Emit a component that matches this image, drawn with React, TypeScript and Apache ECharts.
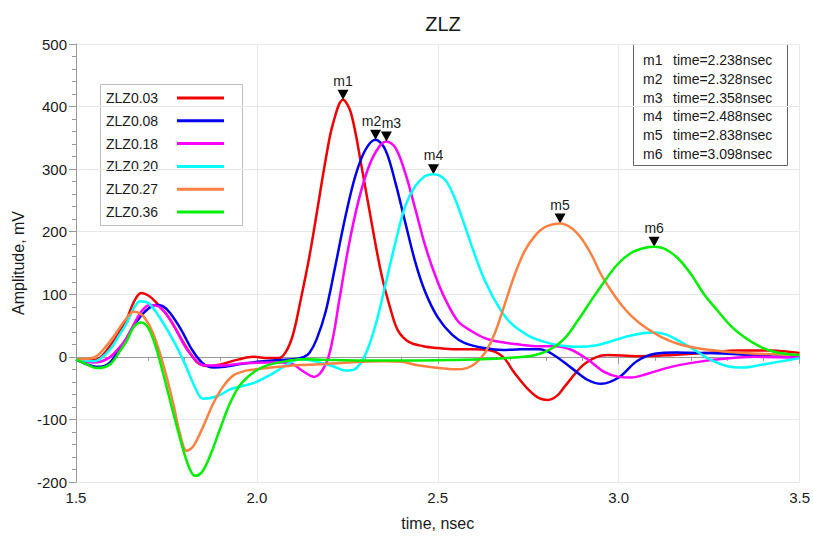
import React, { useEffect, useRef } from "react";
import * as echarts from "echarts";

const seriesNames = ["ZLZ0.03", "ZLZ0.08", "ZLZ0.18", "ZLZ0.20", "ZLZ0.27", "ZLZ0.36"];
const seriesColors = ["#f00000", "#0000f0", "#ff00ff", "#00ffff", "#ff8040", "#00f000"];

// ZLZ0.03 (red)
const redT = [1.5, 1.55, 1.6, 1.64, 1.66, 1.68, 1.7, 1.72, 1.75, 1.78, 1.8, 1.82, 1.84, 1.87, 1.9, 1.95, 1.99, 2.03, 2.06, 2.08, 2.1, 2.12, 2.145, 2.165, 2.19, 2.21, 2.238, 2.26, 2.29, 2.32, 2.345, 2.37, 2.39, 2.42, 2.46, 2.5, 2.55, 2.6, 2.64, 2.68, 2.71, 2.75, 2.78, 2.805, 2.83, 2.85, 2.9, 2.94, 2.97, 3.05, 3.15, 3.24, 3.33, 3.42, 3.5];
const redV = [-4, -5, 22, 60, 88, 102, 98, 88, 68, 40, 20, 2, -11, -15, -12, -4, 0, -2, -2, 8, 36, 88, 160, 228, 315, 372, 411, 390, 302, 205, 130, 75, 42, 24, 17, 14, 12, 12, 11, 0, -24, -52, -66, -69, -62, -48, -14, 0, 3, 1, 3, 6, 10, 10, 6];

// ZLZ0.08 (blue)
const blueT = [1.5, 1.53, 1.56, 1.59, 1.62, 1.64, 1.66, 1.69, 1.72, 1.74, 1.76, 1.79, 1.82, 1.85, 1.88, 1.91, 1.95, 2.0, 2.06, 2.1, 2.13, 2.145, 2.165, 2.19, 2.217, 2.245, 2.272, 2.3, 2.328, 2.355, 2.383, 2.41, 2.438, 2.465, 2.5, 2.54, 2.575, 2.63, 2.68, 2.73, 2.78, 2.815, 2.87, 2.915, 2.952, 3.0, 3.05, 3.1, 3.16, 3.24, 3.33, 3.42, 3.5];
const blueV = [-4, -12, -16, -11, 12, 30, 50, 72, 83, 81, 70, 44, 12, -10, -17, -16, -12, -8, -5, -4, 0, 6, 28, 72, 146, 225, 289, 331, 347, 331, 278, 215, 151, 104, 63, 35, 22, 14, 11, 12, 12, 5, -18, -37, -43, -33, -7, 5, 7, 6, 4, 1, -1];

// ZLZ0.18 (magenta)
const magentaT = [1.5, 1.55, 1.59, 1.62, 1.64, 1.68, 1.705, 1.73, 1.76, 1.78, 1.8, 1.82, 1.85, 1.9, 1.97, 2.03, 2.07, 2.1, 2.125, 2.158, 2.19, 2.21, 2.227, 2.254, 2.282, 2.31, 2.337, 2.358, 2.383, 2.41, 2.438, 2.465, 2.493, 2.52, 2.557, 2.594, 2.63, 2.67, 2.72, 2.78, 2.825, 2.87, 2.916, 2.96, 3.0, 3.035, 3.08, 3.145, 3.22, 3.29, 3.375, 3.5];
const magentaV = [-4, -9, -2, 15, 30, 72, 83, 80, 60, 40, 18, 2, -13, -14, -10, -9, -9, -12, -22, -32, -12, 30, 88, 178, 252, 305, 335, 344, 334, 294, 236, 178, 130, 93, 56, 41, 30, 24, 20, 17, 17, 11, -5, -24, -32, -33, -27, -16, -8, -3, 0, -1];

// ZLZ0.20 (cyan)
const cyanT = [1.5, 1.55, 1.59, 1.62, 1.64, 1.66, 1.677, 1.7, 1.73, 1.77, 1.8, 1.83, 1.851, 1.89, 1.93, 1.99, 2.04, 2.09, 2.12, 2.16, 2.21, 2.245, 2.27, 2.3, 2.328, 2.355, 2.383, 2.41, 2.438, 2.465, 2.488, 2.52, 2.548, 2.575, 2.603, 2.63, 2.667, 2.7, 2.75, 2.795, 2.84, 2.89, 2.935, 2.98, 3.025, 3.07, 3.098, 3.13, 3.165, 3.21, 3.255, 3.3, 3.345, 3.39, 3.44, 3.5];
const cyanV = [-4, -7, 9, 35, 54, 78, 89, 86, 64, 25, -10, -50, -67, -63, -51, -42, -28, -10, -4, -7, -15, -22, -20, 4, 51, 115, 183, 241, 273, 289, 292, 283, 252, 209, 162, 122, 81, 55, 34, 24, 18, 16, 18, 25, 33, 38, 39, 36, 26, 11, -5, -15, -17, -13, -8, -2];

// ZLZ0.27 (orange)
const orangeT = [1.5, 1.55, 1.594, 1.64, 1.659, 1.686, 1.714, 1.741, 1.769, 1.787, 1.806, 1.824, 1.851, 1.879, 1.906, 1.934, 1.97, 2.01, 2.06, 2.12, 2.17, 2.25, 2.35, 2.4, 2.44, 2.49, 2.55, 2.58, 2.605, 2.632, 2.657, 2.685, 2.713, 2.74, 2.768, 2.795, 2.838, 2.869, 2.896, 2.924, 2.951, 2.979, 3.006, 3.034, 3.071, 3.117, 3.163, 3.208, 3.254, 3.346, 3.438, 3.5];
const orangeV = [-4, -1, 25, 62, 72, 65, 36, -12, -75, -122, -150, -143, -112, -75, -48, -30, -22, -19, -16, -13, -12, -9, -7, -8, -13, -17, -20, -18, -10, 8, 37, 84, 132, 169, 193, 207, 213, 206, 190, 164, 132, 106, 84, 66, 48, 32, 21, 15, 11, 6, 4, 3];

// ZLZ0.36 (green)
const greenT = [1.5, 1.53, 1.558, 1.594, 1.62, 1.64, 1.66, 1.68, 1.70, 1.72, 1.741, 1.769, 1.796, 1.815, 1.828, 1.847, 1.87, 1.897, 1.925, 1.952, 1.99, 2.026, 2.08, 2.13, 2.21, 2.35, 2.53, 2.62, 2.71, 2.77, 2.814, 2.85, 2.887, 2.924, 2.961, 2.997, 3.034, 3.071, 3.098, 3.126, 3.163, 3.2, 3.236, 3.273, 3.309, 3.346, 3.392, 3.438, 3.5];
const greenV = [-4, -12, -18, -12, 8, 25, 48, 55, 46, 17, -27, -90, -148, -180, -190, -185, -159, -117, -75, -46, -25, -14, -7, -4, -5, -6, -5, -4, -1, 3, 13, 29, 58, 90, 121, 148, 166, 174, 176, 173, 158, 132, 100, 74, 50, 32, 16, 7, 3];

const markerNames = ["m1", "m2", "m3", "m4", "m5", "m6"];
const markerTimes = [2.238, 2.328, 2.358, 2.488, 2.838, 3.098];
const markerValues = [411, 347, 344, 292, 213, 176];
const markerLabelShift = [0, -4, 5, 0, 0, 0];

const xTicks = { min: 1.5, max: 3.5, interval: 0.5 };
const yTicks = { min: -200, max: 500, interval: 100 };

const FONT = '"Liberation Sans", Arial, sans-serif';
const TEXT = "#1a1a1a";

export default function App() {
  const ref = useRef<HTMLDivElement>(null);

  useEffect(() => {
    if (!ref.current) return;
    const chart = echarts.init(ref.current, null, { renderer: "svg" });
    const times = [redT, blueT, magentaT, cyanT, orangeT, greenT];
    const values = [redV, blueV, magentaV, cyanV, orangeV, greenV];

    const series = seriesNames.map((name, i) => ({
      name,
      type: "line",
      data: times[i].map((t, k) => [t, values[i][k]]),
      showSymbol: false,
      smooth: 0.35,
      lineStyle: { width: 2.5, color: seriesColors[i] },
      itemStyle: { color: seriesColors[i] },
      z: 2 + i,
      markPoint: {
        symbol: "triangle",
        symbolRotate: 180,
        symbolSize: [11, 10],
        symbolOffset: [0, -5],
        itemStyle: { color: "#000" },
        label: {
          show: true,
          position: "top",
          distance: 2,
          color: TEXT,
          fontSize: 14,
          fontFamily: FONT,
          offset: [markerLabelShift[i], 0],
          formatter: (p: any) => p.name,
        },
        data: [
          {
            name: markerNames[i],
            coord: [markerTimes[i], markerValues[i]],
          },
        ],
      },
    }));

    const legendTop = 84;
    const legendRow = 22.8;
    const legendChildren: any[] = [
      {
        type: "rect",
        shape: { x: 100.5, y: legendTop + 0.5, width: 142, height: 141 },
        style: { fill: "#fff", stroke: "#bdbdbd", lineWidth: 1 },
      },
    ];
    seriesNames.forEach((n, i) => {
      const cy = legendTop + 14 + i * legendRow;
      legendChildren.push({
        type: "text",
        style: {
          x: 106,
          y: cy,
          text: n,
          fill: TEXT,
          font: `14px ${FONT}`,
          verticalAlign: "middle",
        },
      });
      legendChildren.push({
        type: "line",
        shape: { x1: 177, y1: cy, x2: 224, y2: cy },
        style: { stroke: seriesColors[i], lineWidth: 3 },
      });
    });

    const boxChildren: any[] = [
      {
        type: "rect",
        shape: { x: 633.5, y: 44.5, width: 154, height: 121 },
        style: { fill: "#fff", stroke: "#666", lineWidth: 1 },
      },
    ];
    markerNames.forEach((m, i) => {
      const cy = 60 + i * 18.8;
      boxChildren.push({
        type: "text",
        style: { x: 643, y: cy, text: m, fill: TEXT, font: `14px ${FONT}`, verticalAlign: "middle" },
      });
      boxChildren.push({
        type: "text",
        style: {
          x: 673,
          y: cy,
          text: `time=${markerTimes[i].toFixed(3)}nsec`,
          fill: TEXT,
          font: `14px ${FONT}`,
          verticalAlign: "middle",
        },
      });
    });

    const axisCommon = {
      axisLine: { show: true, lineStyle: { color: "#9a9a9a", width: 1 } },
      axisTick: { show: true, length: 7, lineStyle: { color: "#9a9a9a" } },
      minorTick: { show: true, splitNumber: 5, length: 4, lineStyle: { color: "#9a9a9a" } },
      splitLine: { show: true, lineStyle: { color: "#e8e8e8", width: 1 } },
      nameTextStyle: { color: TEXT, fontSize: 16, fontFamily: FONT },
    };

    chart.setOption({
      animation: false,
      backgroundColor: "#fff",
      title: {
        text: "ZLZ",
        left: 438,
        top: 9,
        textAlign: "center",
        textStyle: { color: TEXT, fontSize: 20, fontWeight: "normal", fontFamily: FONT },
      },
      grid: { left: 76, right: 11, top: 44, bottom: 50, containLabel: false },
      xAxis: {
        type: "value",
        min: xTicks.min,
        max: xTicks.max,
        interval: xTicks.interval,
        name: "time, nsec",
        nameLocation: "middle",
        nameGap: 33,
        ...axisCommon,
        axisLabel: {
          color: TEXT,
          fontSize: 15,
          fontFamily: FONT,
          margin: 8,
          formatter: (v: number) => v.toFixed(1),
        },
      },
      yAxis: {
        type: "value",
        min: yTicks.min,
        max: yTicks.max,
        interval: yTicks.interval,
        name: "Amplitude, mV",
        nameLocation: "middle",
        nameGap: 48,
        ...axisCommon,
        axisLabel: { color: TEXT, fontSize: 15, fontFamily: FONT, margin: 9 },
      },
      graphic: [
        { type: "group", z: 100, children: legendChildren },
        { type: "group", z: 100, children: boxChildren },
      ],
      series,
    });

    return () => chart.dispose();
  }, []);

  return (
    <div
      ref={ref}
      style={{ position: "fixed", left: 0, top: 0, width: 813, height: 536, background: "#fff" }}
    />
  );
}
